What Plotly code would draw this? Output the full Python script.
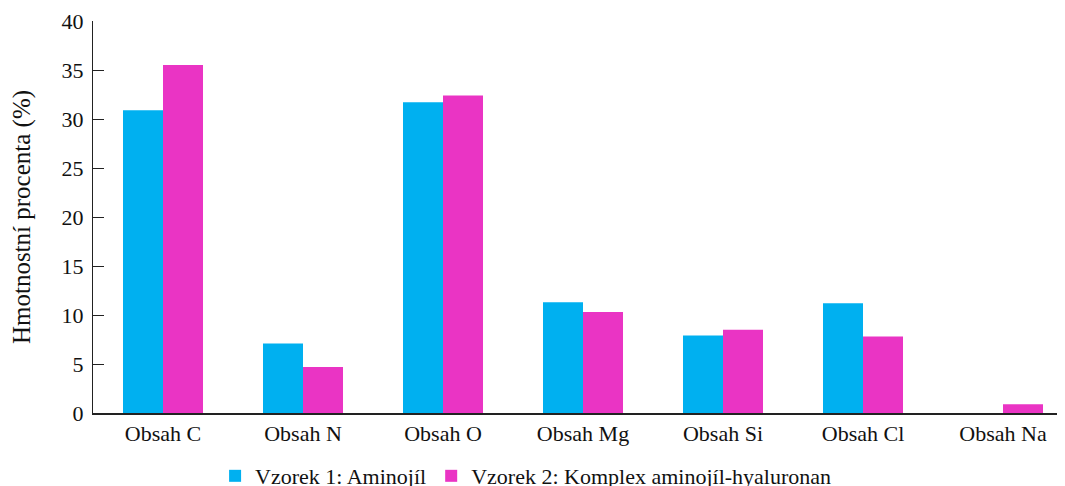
import plotly.graph_objects as go

categories = ["Obsah C", "Obsah N", "Obsah O", "Obsah Mg", "Obsah Si", "Obsah Cl", "Obsah Na"]
series1_name = "Vzorek 1: Aminojíl"
series1_values = [30.9, 7.1, 31.7, 11.3, 7.9, 11.2, 0]
series2_name = "Vzorek 2: Komplex aminojíl-hyaluronan"
series2_values = [35.5, 4.7, 32.4, 10.3, 8.5, 7.8, 0.9]
y_ticks = [0, 5, 10, 15, 20, 25, 30, 35, 40]

font_family = "Liberation Serif, Times New Roman, serif"

fig = go.Figure()
fig.add_trace(go.Bar(x=categories, y=series1_values, name=series1_name,
                     marker=dict(color="#00B0F0", line=dict(width=0))))
fig.add_trace(go.Bar(x=categories, y=series2_values, name=series2_name,
                     marker=dict(color="#EA34C4", line=dict(width=0))))

fig.update_layout(
    width=1065, height=486,
    margin=dict(l=85, r=0, t=13, b=81),
    paper_bgcolor="white", plot_bgcolor="white",
    barmode="group", bargap=0.4286, bargroupgap=0,
    font=dict(family=font_family, size=22, color="#111111"),
    showlegend=True,
    legend=dict(orientation="h", xref="container", yref="container",
                x=0.486, y=0.037, xanchor="center", yanchor="middle",
                font=dict(size=22), itemwidth=30, tracegroupgap=0),
    xaxis=dict(range=[-0.5, 6.5], showline=True, linecolor="#222222", linewidth=1.5,
               ticks="", showgrid=False, zeroline=False, tickfont=dict(size=22)),
    yaxis=dict(range=[0, 40], tickvals=y_ticks, showline=True, linecolor="#222222",
               linewidth=1, ticks="inside", ticklen=11, tickcolor="#222222",
               ticklabelstandoff=4,
               showgrid=False, zeroline=False, tickfont=dict(size=22),
               title=dict(text="Hmotnostní procenta (%)", font=dict(size=25), standoff=24)),
)

fig.write_html("out.html")
